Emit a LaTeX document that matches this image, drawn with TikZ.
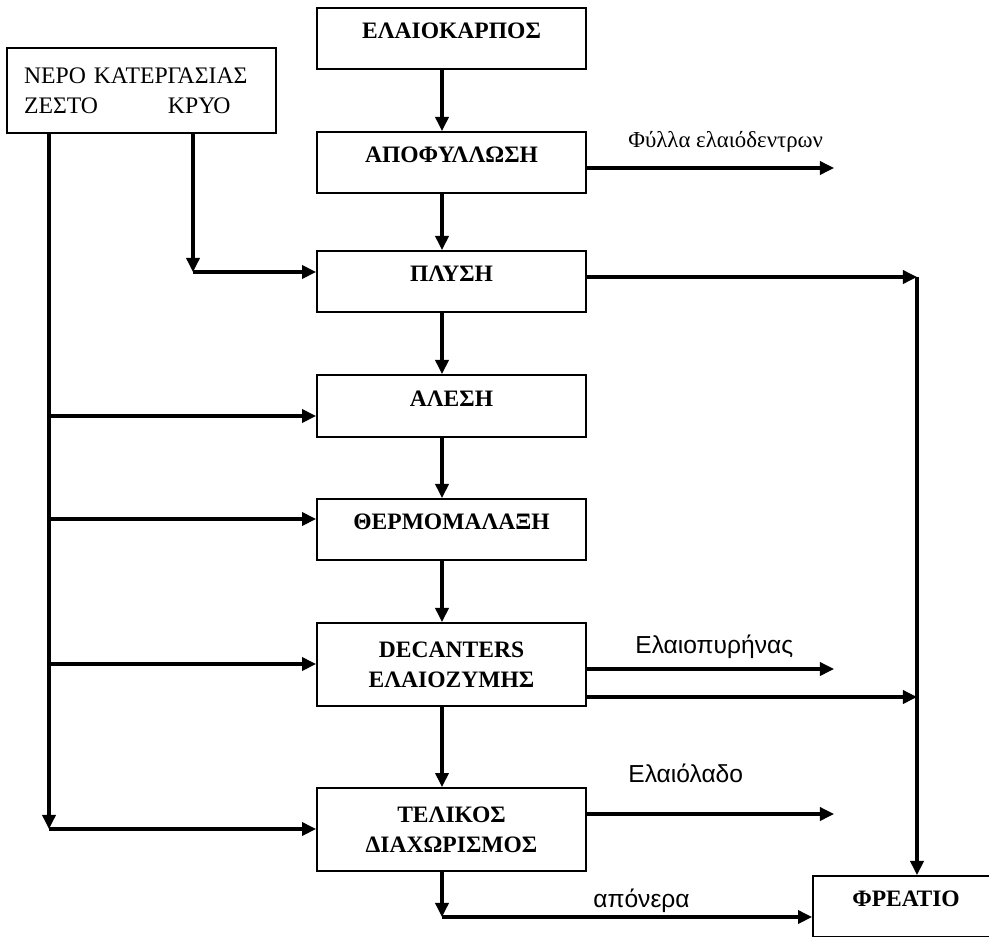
\documentclass[tikz,border=0pt]{standalone}
\usepackage{fontspec}
\setmainfont{Liberation Serif}
\newfontfamily\labelfont{Liberation Sans}
\usetikzlibrary{arrows.meta}

\begin{document}
\begin{tikzpicture}[x=0.02cm, y=-0.02cm,
	box/.style={draw, line width=1.1pt, minimum width=5.38cm, minimum height=1.22cm,
		inner sep=0pt, align=center, font=\fontsize{13.4}{17}\selectfont\bfseries},
	single/.style={text height=8pt, text depth=8pt},
	arr/.style={line width=1.75pt, -{Triangle[length=8pt,width=7.5pt]}},
	lbl/.style={anchor=base west, inner sep=0pt, font=\labelfont\fontsize{14}{17}\selectfont}]
	\useasboundingbox (0,0) rectangle (989,936);
	\clip (0,0) rectangle (989,936);

	% process boxes
	\node[box, single] (kernel) at (451.5, 38.5) {ΕΛΑΙΟΚΑΡΠΟΣ};
	\node[box, single] (leaves) at (451.5, 162.5) {ΑΠΟΦΥΛΛΩΣΗ};
	\node[box, single] (wash) at (451.5, 281.5) {ΠΛΥΣΗ};
	\node[box, single, minimum height=1.24cm] (mill) at (451.5, 406) {ΑΛΕΣΗ};
	\node[box, single] (malax) at (451.5, 529.5) {ΘΕΡΜΟΜΑΛΑΞΗ};
	\node[box, minimum height=1.66cm] (decant) at (451.5, 664.5) {DECANTERS\\ΕΛΑΙΟΖΥΜΗΣ};
	\node[box, minimum height=1.66cm] (sep) at (451.5, 829.5) {ΤΕΛΙΚΟΣ\\ΔΙΑΧΩΡΙΣΜΟΣ};
	\node[box, single, minimum width=3.72cm] (well) at (906, 906.5) {ΦΡΕΑΤΙΟ};
	\node[box, minimum height=1.7cm, text width=4.7cm, align=left,
		font=\fontsize{13.5}{17}\selectfont] (water) at (141.5, 90.5)
		{ΝΕΡΟ ΚΑΤΕΡΓΑΣΙΑΣ\\\makebox[2.88cm][l]{ΖΕΣΤΟ}ΚΡΥΟ};

	% main line
	\coordinate (spine) at (442,0);
	\foreach \a/\b in {kernel/leaves, leaves/wash, wash/mill, mill/malax, malax/decant, decant/sep}
		\draw[arr] (\a.south -| spine) -- (\b.north -| spine);

	% cold water
	\coordinate (cold) at (193,272);
	\draw[arr] (water.south -| cold) -- (cold);
	\draw[arr] (cold) -- (wash.west |- cold);

	% hot water
	\coordinate (hot) at (49,829);
	\draw[arr] (water.south -| hot) -- (hot);
	\foreach \b/\y in {mill/416, malax/519, decant/664, sep/829} {
		\coordinate (h\b) at (49,\y);
		\draw[arr] (h\b) -- (\b.west |- h\b);
	}

	% outputs
	\coordinate (leafout) at (834,168);
	\draw[arr] (leaves.east |- leafout) -- (leafout);
	\node[lbl, font=\fontsize{13}{15}\selectfont] (leaflbl) at (628,147) {Φύλλα ελαιόδεντρων};

	\coordinate (pomace) at (834,669);
	\draw[arr] (decant.east |- pomace) -- (pomace);
	\node[lbl] (pomacelbl) at (635,653) {Ελαιοπυρήνας};

	\coordinate (oil) at (834,814);
	\draw[arr] (sep.east |- oil) -- (oil);
	\node[lbl] (oillbl) at (628,782) {Ελαιόλαδο};

	% waste water to well
	\coordinate (drain) at (917,277);
	\coordinate (drain2) at (917,697);
	\draw[arr] (wash.east |- drain) -- (drain);
	\draw[arr] (decant.east |- drain2) -- (drain2);
	\draw[arr] (drain) -- (well.north -| drain);

	\coordinate (waste) at (442,917);
	\draw[arr] (sep.south -| waste) -- (waste);
	\draw[arr] (waste) -- (well.west |- waste);
	\node[lbl] (wastelbl) at (593,907) {απόνερα};
\end{tikzpicture}
\end{document}
